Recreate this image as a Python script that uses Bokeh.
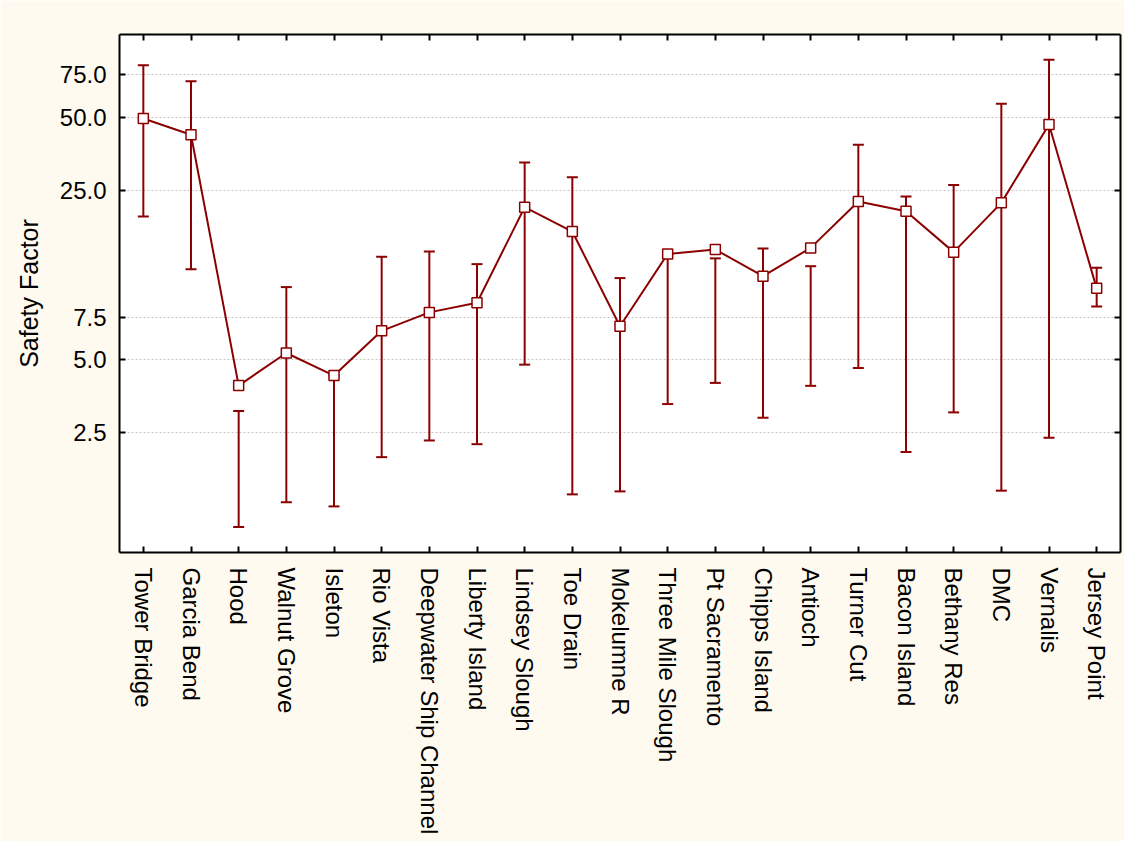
from bokeh.plotting import figure
from bokeh.models import (ColumnDataSource, FactorRange, Range1d, FixedTicker, LogAxis,
                          CategoricalAxis, Whisker, TeeHead, PrintfTickFormatter,
                          CustomLabelingPolicy)
from bokeh.embed import file_html
from bokeh.resources import INLINE

# ---- data ----
sites = ["Tower Bridge", "Garcia Bend", "Hood", "Walnut Grove", "Isleton", "Rio Vista",
         "Deepwater Ship Channel", "Liberty Island", "Lindsey Slough", "Toe Drain",
         "Mokelumne R", "Three Mile Slough", "Pt Sacramento", "Chipps Island", "Antioch",
         "Turner Cut", "Bacon Island", "Bethany Res", "DMC", "Vernalis", "Jersey Point"]
mean_sf = [49.5, 42.4, 3.91, 5.33, 4.30, 6.58, 7.84, 8.59, 21.3, 16.9, 6.87,
           13.67, 14.25, 11.06, 14.47, 22.5, 20.5, 13.9, 22.2, 46.8, 9.85]
upper_sf = [82.2, 70.6, 3.07, 9.97, 4.30, 13.3, 13.98, 12.4, 32.6, 28.3, 10.86,
            13.67, 13.1, 14.4, 12.16, 38.6, 23.6, 26.3, 56.9, 86.5, 11.97]
lower_sf = [19.5, 11.8, 1.02, 1.29, 1.24, 1.98, 2.32, 2.24, 4.77, 1.39, 1.43,
            3.28, 4.01, 2.88, 3.90, 4.62, 2.08, 3.03, 1.44, 2.38, 8.3]
y_ticks = [2.5, 5.0, 7.5, 25.0, 50.0, 75.0]
y_label = "Safety Factor"

DARK_RED = "#8B0000"
FONT = "Liberation Sans"
FS = "24px"

source = ColumnDataSource(dict(site=sites, mean=mean_sf, upper=upper_sf, lower=lower_sf))

p = figure(width=1124, height=841,
           x_range=FactorRange(factors=sites), y_range=Range1d(0.8, 110),
           y_axis_type="log", output_backend="svg", toolbar_location=None,
           min_border_left=119, min_border_top=34, min_border_right=3, min_border_bottom=289,
           border_fill_color="#FFFAF0", background_fill_color="white",
           outline_line_color=None)

whisk = Whisker(source=source, base="site", upper="upper", lower="lower",
                line_color=DARK_RED, line_width=2,
                upper_head=TeeHead(size=11, line_color=DARK_RED, line_width=2),
                lower_head=TeeHead(size=11, line_color=DARK_RED, line_width=2))
p.add_layout(whisk)

p.line(x="site", y="mean", source=source, line_color=DARK_RED, line_width=2)
p.scatter(x="site", y="mean", source=source, marker="square", size=10,
          fill_color="white", line_color=DARK_RED, line_width=1.5)

# grid
p.xgrid.visible = False
p.ygrid.ticker = FixedTicker(ticks=y_ticks)
p.ygrid.grid_line_color = "#c4c4c4"
p.ygrid.grid_line_dash = "2 2"
p.ygrid.grid_line_width = 1

# left axis
ya = p.yaxis[0]
ya.ticker = FixedTicker(ticks=y_ticks)
ya.formatter = PrintfTickFormatter(format="%.1f")
ya.major_label_text_font = FONT
ya.major_label_text_font_size = FS
ya.major_label_text_color = "black"
ya.major_tick_in = 6
ya.major_tick_out = 0
ya.minor_tick_in = 0
ya.minor_tick_out = 0
ya.major_label_standoff = 13
ya.axis_line_width = 2
ya.axis_line_color = "black"
ya.major_tick_line_color = "black"
ya.major_tick_line_width = 2
ya.axis_label = y_label
ya.axis_label_text_font = FONT
ya.axis_label_text_font_size = "25px"
ya.axis_label_text_font_style = "normal"
ya.axis_label_text_color = "black"
ya.axis_label_standoff = 14

# bottom axis
xa = p.xaxis[0]
xa.major_label_orientation = "vertical"
xa.major_label_text_font = FONT
xa.major_label_text_font_size = FS
xa.major_label_text_color = "black"
xa.major_tick_in = 6
xa.major_tick_out = 0
xa.major_label_standoff = 15
xa.axis_line_width = 2
xa.axis_line_color = "black"
xa.major_tick_line_color = "black"
xa.major_tick_line_width = 2

no_labels = CustomLabelingPolicy(code="return new Set()")

# top axis (ticks only)
top = CategoricalAxis(major_label_text_font_size="1px", major_label_standoff=0,
                      major_label_policy=no_labels,
                      major_tick_in=6, major_tick_out=0, axis_line_width=2,
                      axis_line_color="black", major_tick_line_width=2,
                      major_tick_line_color="black")
p.add_layout(top, "above")

# right axis (ticks only)
right = LogAxis(ticker=FixedTicker(ticks=y_ticks), major_label_text_font_size="1px",
                major_label_standoff=0, major_label_policy=no_labels,
                major_tick_in=6, major_tick_out=0,
                minor_tick_in=0, minor_tick_out=0, axis_line_width=2,
                axis_line_color="black", major_tick_line_width=2,
                major_tick_line_color="black")
p.add_layout(right, "right")

open("out.html", "w").write(file_html(p, INLINE))
